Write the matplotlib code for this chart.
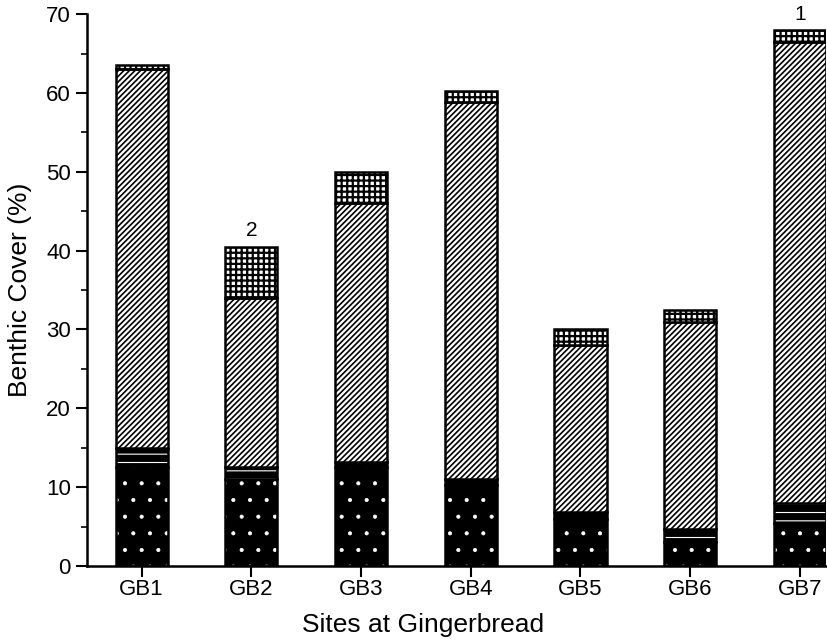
import matplotlib
matplotlib.use("Agg")
import matplotlib.pyplot as plt
from matplotlib.ticker import MultipleLocator
import numpy as np

plt.rcParams['font.family'] = ['Liberation Sans', 'DejaVu Sans']

sites = ['GB1', 'GB2', 'GB3', 'GB4', 'GB5', 'GB6', 'GB7']
# stacked benthic cover (%) from bottom to top
stipple = [12.5, 11.0, 12.5, 10.3, 6.0, 3.0, 5.5]
bands = [2.5, 1.5, 0.7, 0.7, 0.8, 1.7, 2.5]
hatched = [48.0, 21.5, 32.8, 47.8, 21.2, 26.3, 58.5]
cross = [0.5, 6.5, 4.0, 1.5, 2.0, 1.5, 1.5]
notes = {'GB2': '2', 'GB7': '1'}

fig = plt.figure(figsize=(8.27, 6.41), dpi=100)
ax = fig.add_axes([0.105, 0.117, 0.894, 0.861])

x = np.arange(len(sites))
w = 0.475

# values, face, hatch colour, hatch, hatch linewidth
layers = [
    (stipple, 'black', 'white', '.', 0.5),
    (bands, 'black', 'white', '--', 0.8),
    (hatched, 'white', 'black', '//////', 1.2),
    (cross, 'white', 'black', '+++', 1.6),
]
bottom = np.zeros(len(sites))
for vals, face, hcol, hatch, hlw in layers:
    vals = np.array(vals)
    with plt.rc_context({'hatch.linewidth': hlw}):
        ax.bar(x, vals, w, bottom=bottom, color=face, edgecolor=hcol,
               hatch=hatch, linewidth=0)
    ax.bar(x, vals, w, bottom=bottom, fill=False, edgecolor='black',
           linewidth=1.8)
    bottom = bottom + vals

for i, s in enumerate(sites):
    if s in notes:
        ax.text(x[i], bottom[i] + 0.8, notes[s], ha='center', va='bottom',
                fontsize=15)

ax.set_xlim(-0.5, 6.24)
ax.set_ylim(0, 70)
ax.set_xticks(x)
ax.set_xticklabels(sites, fontsize=16)
ax.yaxis.set_major_locator(MultipleLocator(10))
ax.yaxis.set_minor_locator(MultipleLocator(5))
ax.tick_params(axis='y', which='major', length=8, width=1.5, labelsize=16)
ax.tick_params(axis='y', which='minor', length=4, width=1.2)
ax.tick_params(axis='x', length=8, width=1.5, pad=1)
for sp in ['top', 'right']:
    ax.spines[sp].set_visible(False)
for sp in ['left', 'bottom']:
    ax.spines[sp].set_linewidth(1.8)

ax.set_ylabel('Benthic Cover (%)', fontsize=19)
ax.yaxis.set_label_coords(-0.074, 0.5)
ax.set_xlabel('Sites at Gingerbread', fontsize=19)
ax.xaxis.set_label_coords(0.455, -0.085)

fig.savefig('out.png', dpi=100)
